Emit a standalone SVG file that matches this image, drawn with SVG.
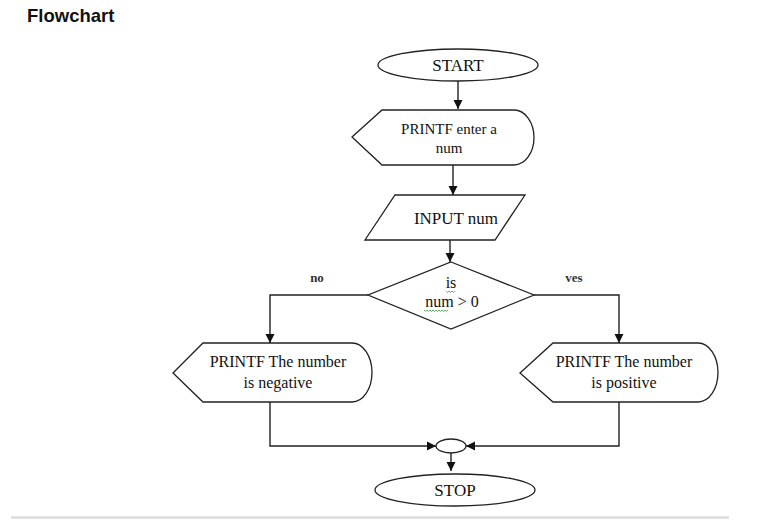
<svg xmlns="http://www.w3.org/2000/svg" width="758" height="524" viewBox="0 0 758 524">
<style>
.shape{fill:#fff;stroke:#222;stroke-width:1.3}
.conn{fill:none;stroke:#222;stroke-width:1.4}
.t{font-family:"Liberation Serif","Times New Roman",serif;fill:#111;text-anchor:middle}
.lbl{font-family:"Liberation Serif","Times New Roman",serif;font-weight:bold;font-size:13px;fill:#333;text-anchor:middle}
.sq{fill:none;stroke:#3a9a3a;stroke-width:0.8}
</style>
<defs>
<marker id="ah" markerWidth="10" markerHeight="10" refX="9" refY="5" orient="auto" markerUnits="userSpaceOnUse">
<path d="M0,0.5 L9,5 L0,9.5 Z" fill="#111"/>
</marker>
</defs>
<rect width="758" height="524" fill="#fff"/>
<text x="27" y="22" font-family="Liberation Sans, Arial, sans-serif" font-weight="bold" font-size="18.5" fill="#111">Flowchart</text>
<rect x="11" y="516" width="718" height="3" fill="#e2e2e2"/>

<g id="connectors">
<line class="conn" x1="458" y1="81" x2="458" y2="109" marker-end="url(#ah)"/>
<line class="conn" x1="453" y1="165" x2="453" y2="195" marker-end="url(#ah)"/>
<line class="conn" x1="450" y1="240" x2="450" y2="262" marker-end="url(#ah)"/>
<polyline class="conn" points="368,295 270,295 270,343" marker-end="url(#ah)"/>
<polyline class="conn" points="534,295 619,295 619,343" marker-end="url(#ah)"/>
<polyline class="conn" points="270,402 270,446 436,446" marker-end="url(#ah)"/>
<polyline class="conn" points="619,402 619,446 466,446" marker-end="url(#ah)"/>
<line class="conn" x1="451" y1="453" x2="451" y2="471" marker-end="url(#ah)"/>
</g>

<g id="start">
<ellipse class="shape" cx="458" cy="65" rx="80" ry="16"/>
<text class="t" x="458" y="71" font-size="17">START</text>
</g>

<g id="print-enter">
<path class="shape" d="M352,137 L382,110 L514,110 A20,27.5 0 0 1 514,165 L382,165 Z"/>
<text class="t" x="449" y="134" font-size="15">PRINTF enter a</text>
<text class="t" x="449" y="153" font-size="15">num</text>
</g>

<g id="input-num">
<polygon class="shape" points="395,195 525,195 495,240 365,240"/>
<text class="t" x="456" y="224" font-size="17">INPUT num</text>
</g>

<g id="decision">
<polygon class="shape" points="451,262 534,295 451,329 368,295"/>
<text class="t" x="451" y="288" font-size="16">is</text>
<text class="t" x="452" y="307" font-size="16">num &gt; 0</text>
<path class="sq" d="M446,291 l1.5,1.5 l1.5,-1.5 l1.5,1.5 l1.5,-1.5 l1.5,1.5 l1.5,-1.5"/>
<path class="sq" d="M424,310 l1.5,1.5 l1.5,-1.5 l1.5,1.5 l1.5,-1.5 l1.5,1.5 l1.5,-1.5 l1.5,1.5 l1.5,-1.5 l1.5,1.5 l1.5,-1.5 l1.5,1.5 l1.5,-1.5 l1.5,1.5 l1.5,-1.5 l1.5,1.5 l1.5,-1.5"/>
</g>
<text class="lbl" x="317" y="282">no</text>
<text class="lbl" x="574" y="282">ves</text>

<g id="print-negative">
<path class="shape" d="M173,373 L203,343 L352,343 A20,29.5 0 0 1 352,402 L203,402 Z"/>
<text class="t" x="278" y="367" font-size="16">PRINTF The number</text>
<text class="t" x="278" y="388" font-size="16">is negative</text>
</g>

<g id="print-positive">
<path class="shape" d="M520,373 L553,343 L698,343 A20,29.5 0 0 1 698,402 L553,402 Z"/>
<text class="t" x="624" y="367" font-size="16">PRINTF The number</text>
<text class="t" x="624" y="388" font-size="16">is positive</text>
</g>

<g id="join">
<ellipse class="shape" cx="451" cy="446" rx="15" ry="7"/>
</g>

<g id="stop">
<ellipse class="shape" cx="455" cy="490" rx="80" ry="16"/>
<text class="t" x="455" y="496" font-size="17">STOP</text>
</g>
</svg>
